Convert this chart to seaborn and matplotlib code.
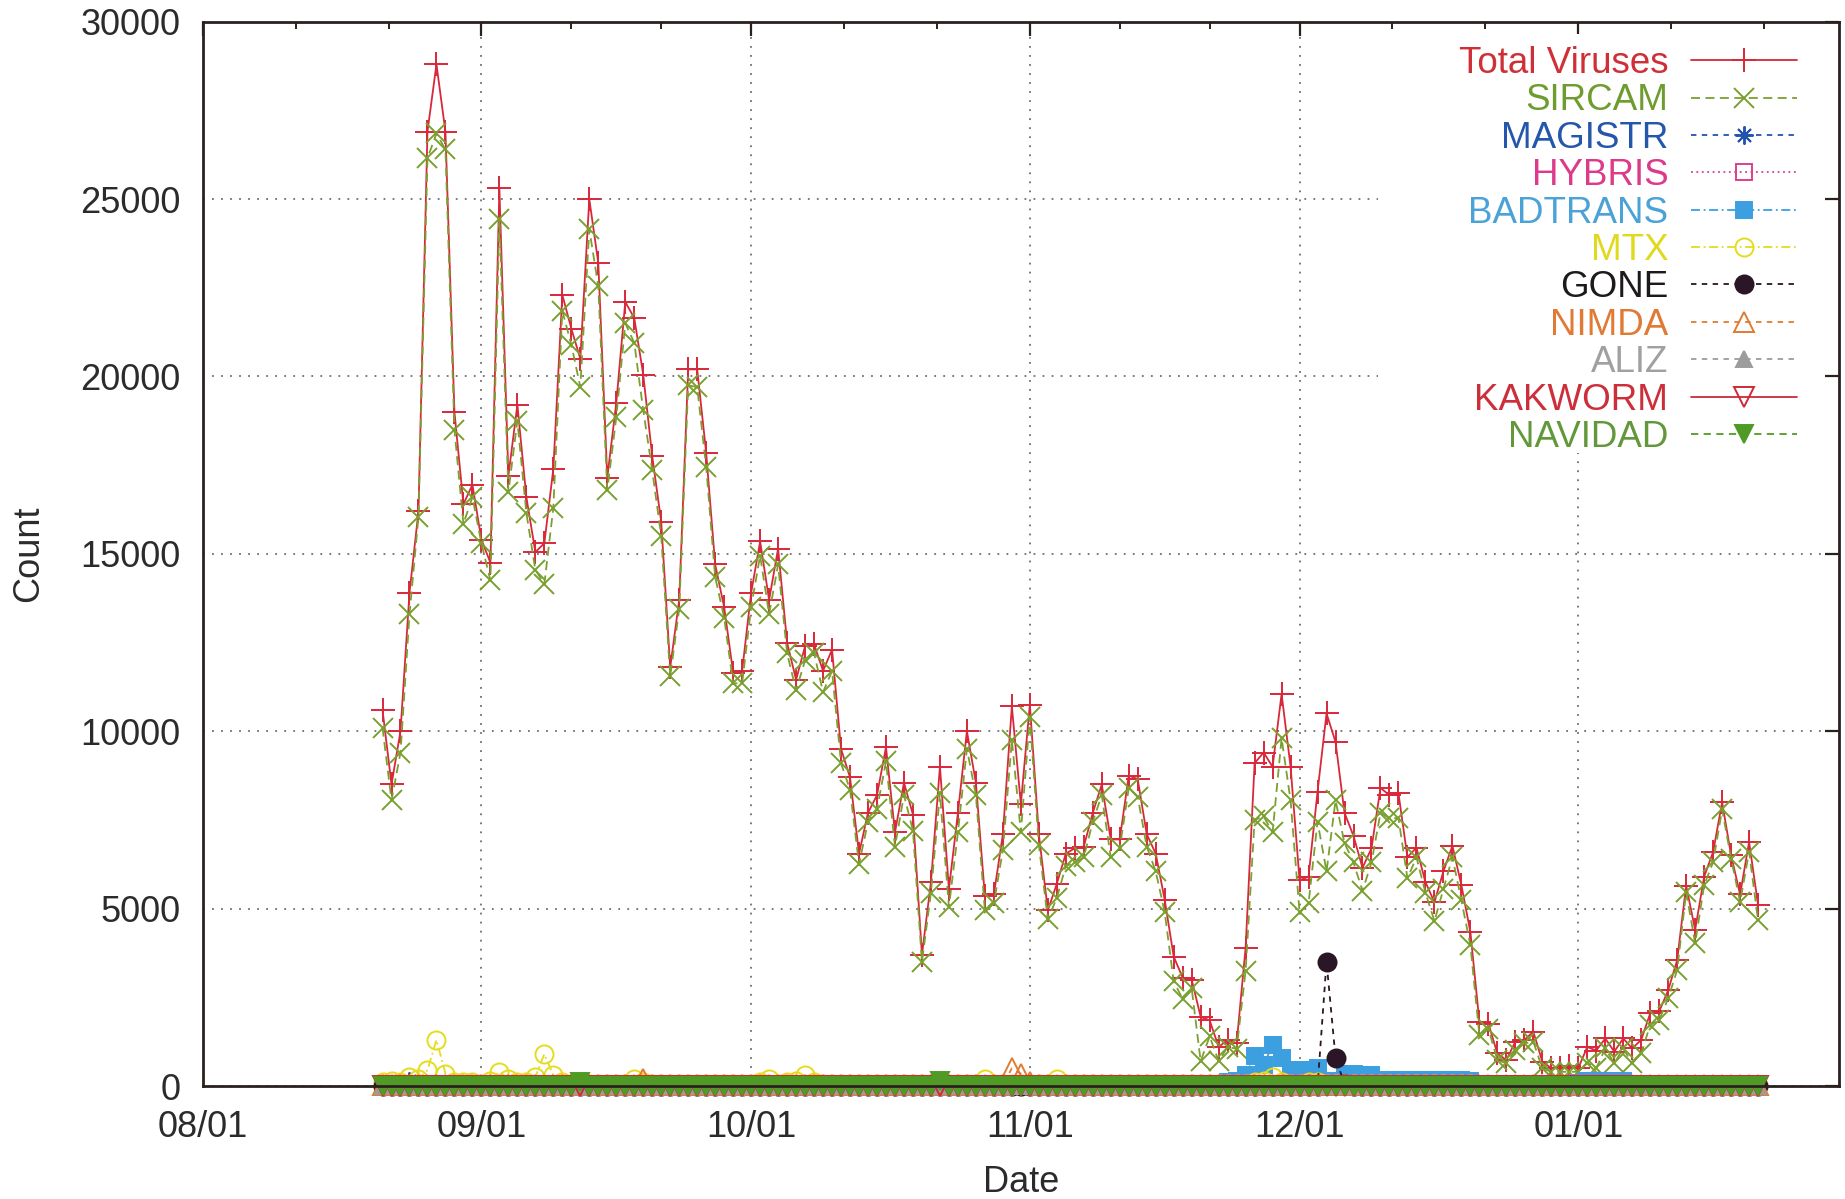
import matplotlib
matplotlib.use("Agg")
import numpy as np
import pandas as pd
import matplotlib.pyplot as plt
import matplotlib.dates as mdates
import seaborn as sns
from matplotlib.ticker import FixedLocator, MultipleLocator
from matplotlib.patches import Rectangle

# ---------------- data (daily, 2001-08-21 .. 2002-01-21) ----------------
START_DATE = "2001-08-21"

TOTAL = (
    # Aug 21-31
    [10600, 8500, 10000, 13900, 16200, 26900, 28800, 26900, 19000, 16400, 16950] +
    # Sep
    [15400, 14750, 25300, 17200, 19200, 16600, 15050, 15300, 17400, 22300,
     21350, 20500, 25000, 23200, 17150, 19250, 22100, 21650, 20050, 17750,
     15900, 11800, 13700, 20200, 20200, 17850, 14700, 13500, 11650, 11700] +
    # Oct
    [13900, 15350, 13700, 15150, 12500, 11450, 12400, 12450, 11700, 12300,
     9500, 8700, 6550, 7700, 8200, 9550, 7150, 8550, 7650, 3700,
     5750, 9000, 5550, 7700, 10000, 8550, 5350, 5400, 7100, 10700, 7950] +
    # Nov
    [10750, 7100, 4950, 5700, 6550, 6700, 6750, 7700, 8500, 6950,
     6950, 8750, 8650, 7100, 6550, 5250, 3650, 3050, 3000, 1950,
     1850, 1100, 1300, 1200, 3900, 9100, 9400, 9000, 11050, 9000] +
    # Dec
    [5800, 5900, 8300, 10500, 9700, 7700, 7050, 6150, 6700, 8400,
     8200, 8250, 6450, 6720, 5750, 5180, 6050, 6770, 5660, 4340,
     1810, 1760, 920, 730, 1250, 1300, 1530, 690, 500, 500, 550] +
    # Jan
    [500, 1100, 1000, 1340, 970, 1340, 1060, 1300, 2050, 2100,
     2700, 3550, 5650, 4400, 5900, 6600, 8000, 6500, 5400, 6880, 5100]
)

SIRCAM = (
    [10100, 8050, 9400, 13300, 16050, 26150, 26850, 26400, 18500, 15850, 16600] +
    [15300, 14250, 24450, 16750, 18750, 16150, 14550, 14150, 16300, 21850,
     20900, 19700, 24150, 22550, 16800, 18850, 21500, 20950, 19050, 17350,
     15500, 11550, 13450, 19750, 19700, 17450, 14350, 13200, 11350, 11350] +
    [13500, 14950, 13300, 14700, 12200, 11150, 12000, 12200, 11100, 11700,
     9100, 8350, 6250, 7450, 7800, 9150, 6750, 8200, 7200, 3500,
     5450, 8250, 5050, 7150, 9500, 8200, 4950, 5150, 6650, 9750, 7150] +
    [10400, 6800, 4700, 5300, 6200, 6300, 6450, 7450, 8200, 6450,
     6700, 8400, 8150, 6750, 6050, 4900, 2950, 2450, 2750, 700,
     1400, 700, 1100, 1050, 3250, 7500, 7600, 7150, 9800, 8050] +
    [4900, 5150, 7450, 6050, 8050, 6850, 6300, 5500, 6300, 7700,
     7550, 7550, 5850, 6450, 5450, 4650, 5550, 6450, 5230, 3970,
     1440, 1620, 730, 640, 1010, 1200, 1250, 500, 400, 400, 400] +
    [400, 650, 500, 1060, 640, 1060, 640, 920, 1720, 1860,
     2470, 3270, 5470, 4020, 5660, 6310, 7800, 6410, 5190, 6600, 4670]
)

MAGISTR = (
    [40, 40, 60, 150, 60, 40, 40, 40, 40, 40, 40] +
    [40, 40, 40, 40, 40, 40, 40, 40, 40, 40,
     30, 30, 30, 30, 30, 30, 30, 30, 30, 30,
     30, 30, 30, 30, 30, 30, 30, 30, 30, 30] +
    [30, 30, 30, 30, 30, 30, 30, 30, 30, 30,
     30, 30, 30, 30, 30, 30, 30, 30, 30, 30,
     30, 30, 30, 30, 30, 30, 30, 30, 30, 30, 30] +
    [20, 20, 20, 20, 20, 20, 20, 20, 20, 20,
     20, 20, 20, 20, 20, 20, 20, 20, 20, 20,
     20, 20, 20, 20, 20, 20, 20, 20, 20, 20] +
    [20, 20, 20, 20, 20, 20, 20, 20, 20, 20,
     20, 20, 20, 20, 20, 20, 20, 20, 20, 20,
     20, 20, 20, 20, 20, 20, 20, 20, 20, 20, 20] +
    [20, 20, 20, 20, 20, 20, 20, 20, 20, 20,
     20, 20, 20, 20, 20, 20, 20, 20, 20, 20, 20]
)

HYBRIS = (
    [10, 10, 10, 10, 10, 10, 10, 10, 10, 10, 10] +
    [10, 10, 10, 10, 10, 10, 10, 10, 10, 10,
     10, 10, 10, 10, 10, 10, 10, 10, 10, 10,
     10, 10, 10, 10, 10, 10, 10, 10, 10, 10] +
    [10, 10, 10, 10, 10, 10, 10, 10, 10, 10,
     10, 10, 10, 10, 10, 10, 10, 10, 10, 10,
     10, 10, 10, 10, 10, 10, 10, 10, 10, 10, 10] +
    [10, 10, 10, 10, 10, 10, 10, 10, 10, 10,
     10, 10, 10, 10, 10, 10, 10, 10, 10, 10,
     10, 10, 10, 10, 10, 10, 10, 10, 10, 10] +
    [10, 10, 10, 10, 10, 10, 10, 10, 10, 10,
     10, 10, 10, 10, 10, 10, 10, 10, 10, 10,
     10, 10, 10, 10, 10, 10, 10, 10, 10, 10, 10] +
    [10, 10, 10, 10, 10, 10, 10, 10, 10, 10,
     10, 10, 10, 10, 10, 10, 10, 10, 10, 10, 10]
)

BADTRANS = (
    [0, 0, 0, 0, 0, 0, 0, 0, 0, 0, 0] +
    [0, 0, 0, 0, 0, 0, 0, 0, 0, 0,
     0, 0, 0, 0, 0, 0, 0, 0, 0, 0,
     0, 0, 0, 0, 0, 0, 0, 0, 0, 0] +
    [0, 0, 0, 0, 0, 0, 0, 0, 0, 0,
     0, 0, 0, 0, 0, 0, 0, 0, 0, 0,
     0, 0, 0, 0, 0, 0, 0, 0, 0, 0, 0] +
    [0, 0, 0, 0, 0, 0, 0, 0, 0, 0,
     0, 0, 0, 0, 0, 0, 0, 0, 0, 20,
     30, 60, 100, 150, 300, 850, 600, 1150, 800, 450] +
    [450, 450, 500, 100, 150, 350, 350, 300, 300, 150,
     180, 180, 180, 180, 180, 180, 180, 180, 180, 150,
     60, 50, 50, 50, 50, 50, 50, 50, 50, 50, 60] +
    [80, 150, 150, 150, 150, 150, 60, 40, 40, 40,
     40, 40, 40, 40, 40, 40, 40, 40, 40, 40, 40]
)

MTX = (
    [100, 150, 100, 250, 200, 450, 1300, 350, 100, 100, 100] +
    [50, 150, 400, 200, 100, 100, 250, 900, 300, 100,
     50, 50, 50, 50, 50, 50, 50, 200, 100, 50,
     50, 50, 50, 50, 50, 50, 50, 50, 50, 50] +
    [50, 100, 200, 50, 100, 150, 300, 100, 50, 50,
     50, 50, 50, 50, 50, 50, 50, 50, 50, 50,
     50, 50, 50, 50, 50, 50, 200, 50, 50, 50, 50] +
    [50, 50, 50, 200, 50, 50, 50, 50, 50, 50,
     50, 50, 50, 50, 50, 50, 50, 50, 50, 50,
     50, 50, 50, 50, 50, 100, 150, 250, 100, 50] +
    [50, 100, 100, 50, 50, 50, 50, 50, 50, 50,
     50, 50, 50, 50, 50, 50, 50, 50, 50, 50,
     40, 40, 40, 40, 40, 40, 40, 40, 40, 40, 40] +
    [30, 30, 30, 30, 30, 30, 30, 30, 30, 30,
     30, 30, 30, 30, 30, 30, 30, 30, 30, 30, 30]
)

GONE = (
    [0, 0, 0, 0, 0, 0, 0, 0, 0, 0, 0] +
    [0, 0, 0, 0, 0, 0, 0, 0, 0, 0,
     0, 0, 0, 0, 0, 0, 0, 0, 0, 0,
     0, 0, 0, 0, 0, 0, 0, 0, 0, 0] +
    [0, 0, 0, 0, 0, 0, 0, 0, 0, 0,
     0, 0, 0, 0, 0, 0, 0, 0, 0, 0,
     0, 0, 0, 0, 0, 0, 0, 0, 0, 0, 0] +
    [0, 0, 0, 0, 0, 0, 0, 0, 0, 0,
     0, 0, 0, 0, 0, 0, 0, 0, 0, 0,
     0, 0, 0, 0, 0, 0, 0, 0, 0, 0] +
    [0, 0, 0, 3500, 800, 50, 0, 0, 0, 0,
     0, 0, 0, 0, 0, 0, 0, 0, 0, 0,
     0, 0, 0, 0, 0, 0, 0, 0, 0, 0, 0] +
    [0, 0, 0, 0, 0, 0, 0, 0, 0, 0,
     0, 0, 0, 0, 0, 0, 0, 0, 0, 0, 0]
)

NIMDA = (
    [20, 20, 20, 20, 20, 20, 20, 20, 20, 20, 20] +
    [20, 20, 20, 20, 20, 20, 20, 20, 20, 20,
     20, 20, 20, 20, 20, 20, 20, 20, 200, 20,
     20, 20, 20, 20, 20, 20, 20, 20, 20, 20] +
    [20, 20, 20, 20, 20, 20, 20, 20, 20, 20,
     20, 20, 20, 20, 20, 20, 20, 20, 20, 20,
     20, 100, 20, 20, 20, 20, 20, 20, 20, 500, 350] +
    [100, 20, 20, 20, 20, 20, 20, 20, 20, 20,
     20, 20, 20, 20, 20, 20, 20, 20, 20, 20,
     20, 20, 20, 20, 20, 20, 20, 20, 20, 20] +
    [20, 20, 20, 20, 20, 20, 20, 20, 20, 20,
     20, 20, 20, 20, 20, 20, 20, 20, 20, 20,
     20, 20, 20, 20, 20, 20, 20, 20, 20, 20, 20] +
    [20, 20, 20, 20, 20, 20, 20, 20, 20, 20,
     20, 20, 20, 20, 20, 20, 20, 20, 20, 20, 20]
)

ALIZ = (
    [0, 0, 0, 0, 0, 0, 0, 0, 0, 0, 0] +
    [0, 0, 0, 0, 0, 0, 0, 0, 0, 0,
     0, 0, 0, 0, 0, 0, 0, 0, 0, 0,
     0, 0, 0, 0, 0, 0, 0, 0, 0, 0] +
    [0, 0, 0, 0, 0, 0, 0, 0, 0, 0,
     0, 0, 0, 0, 0, 0, 0, 0, 0, 0,
     0, 0, 0, 0, 0, 0, 0, 0, 0, 0, 0] +
    [0, 0, 0, 0, 0, 0, 0, 0, 0, 0,
     0, 0, 0, 0, 0, 0, 0, 0, 0, 0,
     0, 0, 0, 0, 0, 0, 0, 0, 0, 0] +
    [0, 0, 0, 0, 0, 0, 0, 0, 0, 0,
     0, 0, 0, 0, 0, 0, 0, 0, 0, 0,
     0, 0, 0, 0, 0, 0, 0, 0, 0, 0, 0] +
    [0, 0, 0, 0, 0, 0, 0, 0, 0, 0,
     0, 0, 0, 0, 0, 0, 0, 0, 0, 0, 0]
)

KAKWORM = (
    [0, 0, 0, 0, 0, 0, 0, 0, 0, 0, 0] +
    [0, 0, 0, 0, 0, 0, 0, 0, 0, 0,
     0, 0, 0, 0, 0, 0, 0, 0, 0, 0,
     0, 0, 0, 0, 0, 0, 0, 0, 0, 0] +
    [0, 0, 0, 0, 0, 0, 0, 0, 0, 0,
     0, 0, 0, 0, 0, 0, 0, 0, 0, 0,
     0, 0, 0, 0, 0, 0, 0, 0, 0, 0, 0] +
    [0, 0, 0, 0, 0, 0, 0, 0, 0, 0,
     0, 0, 0, 0, 0, 0, 0, 0, 0, 0,
     0, 0, 0, 0, 0, 0, 0, 0, 0, 0] +
    [0, 0, 0, 0, 0, 0, 0, 0, 0, 0,
     0, 0, 0, 0, 0, 0, 0, 0, 0, 0,
     0, 0, 0, 0, 0, 0, 0, 0, 0, 0, 0] +
    [0, 0, 0, 0, 0, 0, 0, 0, 0, 0,
     0, 0, 0, 0, 0, 0, 0, 0, 0, 0, 0]
)

NAVIDAD = (
    [0, 0, 0, 0, 0, 0, 0, 0, 0, 0, 0] +
    [0, 0, 0, 0, 0, 0, 0, 0, 0, 0,
     0, 100, 0, 0, 0, 0, 0, 0, 0, 0,
     0, 0, 0, 0, 0, 0, 0, 0, 0, 0] +
    [0, 0, 0, 0, 0, 0, 0, 0, 0, 0,
     0, 0, 0, 0, 0, 0, 0, 0, 0, 0,
     0, 150, 0, 0, 0, 0, 0, 0, 0, 0, 0] +
    [0, 0, 0, 0, 0, 0, 0, 0, 0, 0,
     0, 0, 0, 0, 0, 0, 0, 0, 0, 0,
     0, 0, 0, 0, 0, 0, 0, 0, 0, 0] +
    [0, 0, 0, 0, 0, 0, 0, 0, 0, 0,
     0, 0, 0, 0, 0, 0, 0, 0, 0, 0,
     0, 0, 0, 0, 0, 0, 0, 0, 0, 0, 0] +
    [0, 0, 0, 0, 0, 0, 0, 0, 0, 0,
     0, 0, 0, 0, 0, 0, 0, 0, 0, 0, 0]
)

SERIES_NAMES = ["Total Viruses", "SIRCAM", "MAGISTR", "HYBRIS", "BADTRANS",
                "MTX", "GONE", "NIMDA", "ALIZ", "KAKWORM", "NAVIDAD"]
SERIES_VALUES = [TOTAL, SIRCAM, MAGISTR, HYBRIS, BADTRANS,
                 MTX, GONE, NIMDA, ALIZ, KAKWORM, NAVIDAD]
X_TICK_LABELS_FMT = "%m/%d"

# ---------------- styles ----------------
STYLE = {
    "Total Viruses": dict(color="#d8283a", marker="+", ls="-", fill=False, ms=17, text="#cf3038"),
    "SIRCAM":  dict(color="#7aa030", marker="x", ls=(0, (5, 3)), fill=False, ms=14, text="#6f9c2e"),
    "MAGISTR": dict(color="#2354ad", marker=(8, 2, 0), ls=(0, (3, 3)), fill=False, ms=13, text="#2456ab"),
    "HYBRIS":  dict(color="#de3d8e", marker="s", ls=(0, (1, 2)), fill=False, ms=12, text="#dc3a8a"),
    "BADTRANS": dict(color="#3b9fe0", marker="s", ls=(0, (5, 2, 1, 2)), fill=True, ms=12, text="#4aa2d6"),
    "MTX":     dict(color="#e4dc1c", marker="o", ls=(0, (5, 2, 1, 2)), fill=False, ms=13, text="#e0da1e"),
    "GONE":    dict(color="#2a1626", marker="o", ls=(0, (3, 3)), fill=True, ms=13, text="#1e1a1c"),
    "NIMDA":   dict(color="#e07b30", marker="^", ls=(0, (3, 3)), fill=False, ms=14, text="#e07a34"),
    "ALIZ":    dict(color="#9c9c9c", marker="^", ls=(0, (3, 3)), fill=True, ms=12, text="#a0a0a0"),
    "KAKWORM": dict(color="#cc2a38", marker="v", ls="-", fill=False, ms=14, text="#cc2e3a"),
    "NAVIDAD": dict(color="#4f9b25", marker="v", ls=(0, (4, 3)), fill=True, ms=13, text="#62983a"),
}

# ---------------- figure ----------------
sns.set_theme(style="white")
plt.rcParams["font.family"] = ["Liberation Sans", "DejaVu Sans"]
plt.rcParams["axes.axisbelow"] = "line"

W, H = 1845, 1199
fig = plt.figure(figsize=(W / 100, H / 100), dpi=100, facecolor="white")
ax_l, ax_r, ax_t, ax_b = 202.7, 1839.0, 21.7, 1086.0
ax = fig.add_axes([ax_l / W, 1 - ax_b / H, (ax_r - ax_l) / W, (ax_b - ax_t) / H])
ax.set_facecolor("white")

dates = pd.date_range(START_DATE, periods=len(TOTAL), freq="D")

lines = []
for name, vals in zip(SERIES_NAMES, SERIES_VALUES):
    st = STYLE[name]
    sns.lineplot(x=dates, y=vals, ax=ax, estimator=None, sort=False, errorbar=None,
                 color=st["color"], linestyle=st["ls"], linewidth=1.3,
                 marker=st["marker"], markersize=st["ms"],
                 markerfacecolor=st["color"] if st["fill"] else "none",
                 markeredgecolor=st["color"], markeredgewidth=1.4,
                 legend=False)
    ln = ax.get_lines()[-1]
    ln.set_label(name)
    ln.set_clip_on(False)
    lines.append(ln)

# axes ranges
ax.set_xlim(pd.Timestamp("2001-08-01"), pd.Timestamp("2002-01-30"))
ax.set_ylim(0, 30000)

months = pd.date_range("2001-08-01", "2002-02-01", freq="MS")
mnums = mdates.date2num(months.to_pydatetime())
ax.xaxis.set_major_locator(FixedLocator(mnums))
minor = []
for a, b in zip(mnums[:-1], mnums[1:]):
    minor += [a + (b - a) / 3, a + 2 * (b - a) / 3]
ax.xaxis.set_minor_locator(FixedLocator(minor))
ax.xaxis.set_major_formatter(mdates.DateFormatter(X_TICK_LABELS_FMT))
ax.yaxis.set_major_locator(MultipleLocator(5000))

spine_col = "#2a2020"
for sp in ax.spines.values():
    sp.set_visible(True)
    sp.set_color(spine_col)
    sp.set_linewidth(2.0)

ax.tick_params(axis="both", which="both", direction="in", top=True, right=True,
               color=spine_col, labelcolor="#2b2b2b", labelsize=26)
ax.tick_params(axis="both", which="major", length=10, width=1.6)
ax.tick_params(axis="x", which="minor", length=5, width=1.4)
ax.tick_params(axis="y", which="major", pad=16)
ax.tick_params(axis="x", which="major", pad=17)

ax.grid(True, which="major", axis="both", color="#6e6e6e", linestyle=(0, (1, 4)), linewidth=1.3)

ax.set_xlabel("Date", fontsize=26, color="#2b2b2b")
ax.set_ylabel("Count", fontsize=26, color="#2b2b2b")
ax.xaxis.set_label_coords(0.5, (ax_b - 1182) / (ax_b - ax_t))
ax.xaxis.label.set_va("center")
ax.yaxis.set_label_coords((29 - ax_l) / (ax_r - ax_l), 0.5)
ax.yaxis.label.set_va("center")

# white key area hiding the grid (gnuplot key box)
kx0 = (1378 - ax_l) / (ax_r - ax_l)
ky0 = (ax_b - 453) / (ax_b - ax_t)
kx1 = 1 - 15 / (ax_r - ax_l)
ky1 = 1 - 12 / (ax_b - ax_t)
ax.add_patch(Rectangle((kx0, ky0), kx1 - kx0, ky1 - ky0, transform=ax.transAxes,
                       facecolor="white", edgecolor="none", zorder=1.7))

leg = ax.legend(handles=lines, loc="upper right",
                bbox_to_anchor=(1797 / W, 1 - 46 / H), bbox_transform=fig.transFigure,
                frameon=False, markerfirst=False, fontsize=26.5, labelspacing=0.065,
                handlelength=2.88, handletextpad=0.62, borderpad=0, borderaxespad=0,
                numpoints=1)
leg.set_zorder(5)
for txt, name in zip(leg.get_texts(), SERIES_NAMES):
    txt.set_color(STYLE[name]["text"])

fig.savefig("out.png", dpi=100, facecolor="white")
